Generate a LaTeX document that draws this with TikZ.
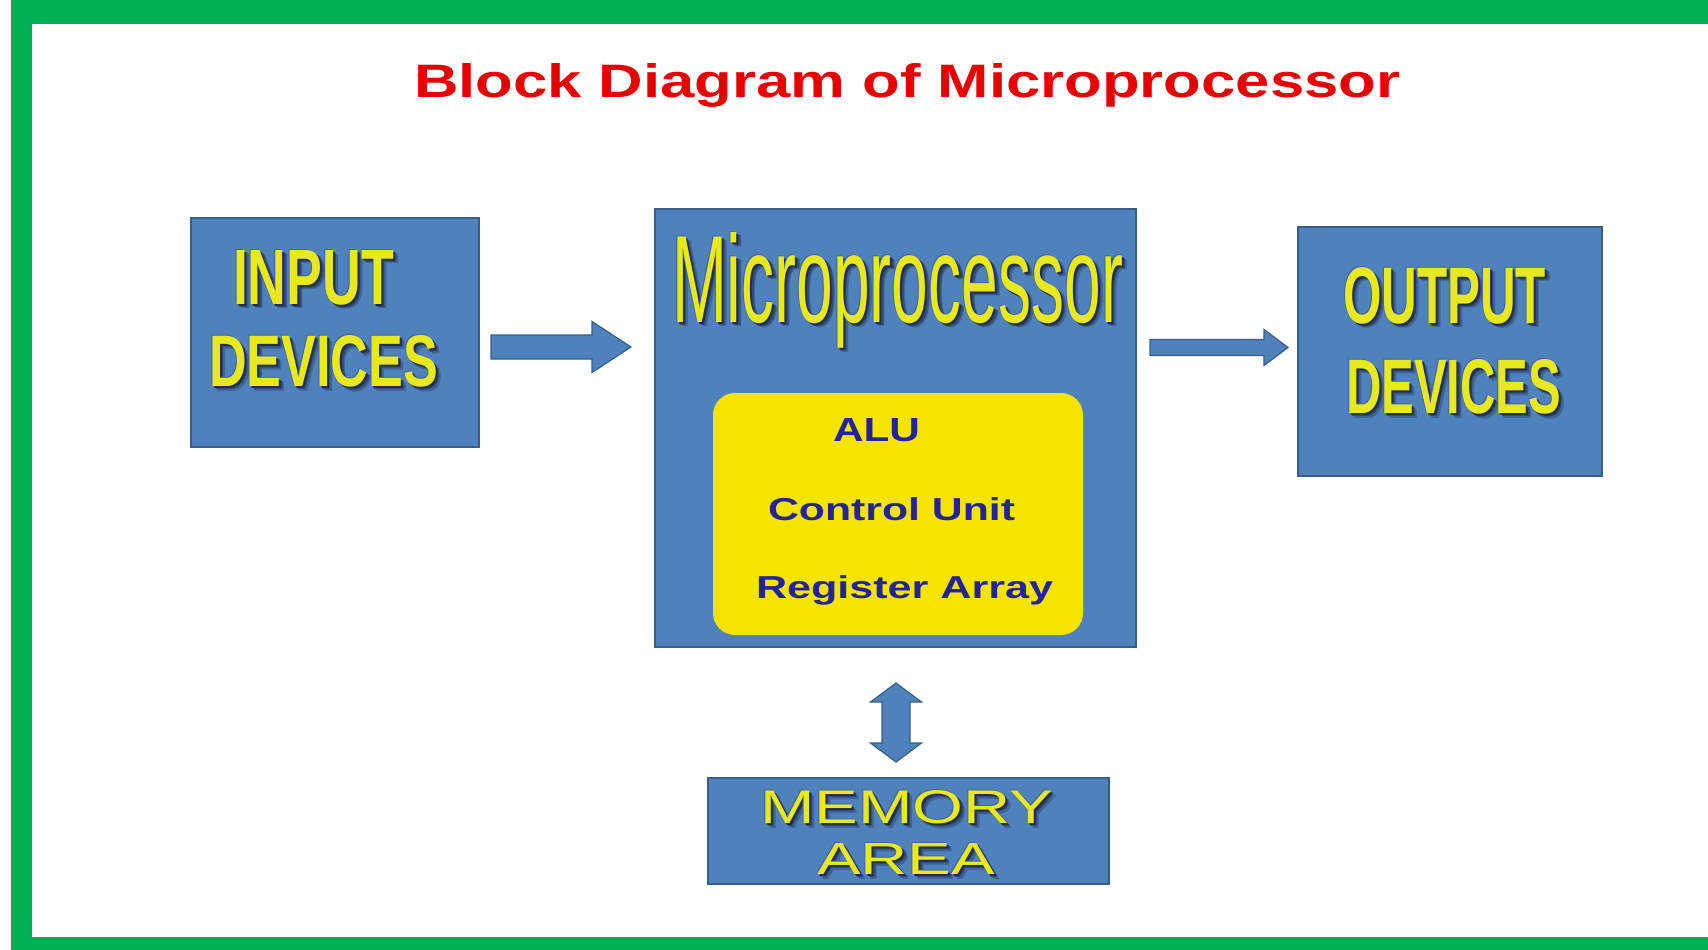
\documentclass[tikz,border=0pt]{standalone}
\usepackage{fontspec}
\setmainfont{Liberation Sans}
\usepackage{graphicx}
\usetikzlibrary{calc}
\definecolor{boxblue}{RGB}{79,129,189}
\definecolor{boxedge}{RGB}{56,93,138}
\definecolor{ylw}{RGB}{232,232,30}
\definecolor{shc}{RGB}{34,46,78}
\definecolor{coreylw}{RGB}{245,228,0}
\definecolor{navytxt}{RGB}{36,36,150}
\definecolor{titlered}{RGB}{230,0,0}
\definecolor{framegreen}{RGB}{0,176,80}
\newcommand{\shlayer}[5]{\rlap{\kern#4\raisebox{-#4}{\color{#5}\resizebox{#1}{#2}{#3}}}}
\newcommand{\shtxt}[3]{%
  \shlayer{#1}{#2}{#3}{5pt}{shc!35!boxblue}%
  \shlayer{#1}{#2}{#3}{3.5pt}{shc!65!boxblue}%
  \shlayer{#1}{#2}{#3}{2pt}{shc}%
  \shlayer{#1}{#2}{#3}{-1pt}{shc!30!boxblue}%
  {\color{ylw}\resizebox{#1}{#2}{#3}}}
\tikzset{
  bluebox/.style={draw=boxedge, line width=2pt, fill=boxblue, inner sep=0pt},
  corebox/.style={fill=coreylw, rounded corners=22pt, inner sep=0pt},
  txt/.style={inner sep=0pt, outer sep=0pt, anchor=base west},
  arrowsty/.style={fill=boxblue, draw=boxedge, line width=1.2pt, line join=miter}
}
\newcommand{\harrow}[5]{%
  \path[arrowsty] let \p1=(#1), \p2=(#2) in
    (\x1,\y1+#3) -- (\x2-#5,\y1+#3) -- (\x2-#5,\y1+#4) -- (\x2,\y1)
    -- (\x2-#5,\y1-#4) -- (\x2-#5,\y1-#3) -- (\x1,\y1-#3) -- cycle;}
\begin{document}
\begin{tikzpicture}[x=1pt,y=-1pt]
\useasboundingbox (0,0) rectangle (1708,950);
\fill[white] (0,0) rectangle (1708,950);
% green frame
\fill[framegreen] (11,0) rectangle (1708,24);
\fill[framegreen] (11,0) rectangle (32,950);
\fill[framegreen] (11,937) rectangle (1708,950);

% title
\node[txt] (title) at (414,98) {\color{titlered}\resizebox{986pt}{34pt}{\bfseries Block Diagram of Microprocessor}};

% boxes
\node[bluebox, minimum width=288pt, minimum height=229pt] (inp) at (335,332.5) {};
\node[bluebox, minimum width=481pt, minimum height=438pt] (mp) at (895.5,428) {};
\node[corebox, minimum width=370pt, minimum height=242pt] (core) at (898,514) {};
\node[bluebox, minimum width=304pt, minimum height=249pt] (out) at (1450,351.5) {};
\node[bluebox, minimum width=401pt, minimum height=106pt] (mem) at (908.5,831) {};

% texts
\node[txt] (tin1) at (233,304) {\shtxt{161pt}{54pt}{\bfseries INPUT}};
\node[txt] (tin2) at (209,386) {\shtxt{229pt}{51pt}{\bfseries DEVICES}};
\node[txt] (tmp) at (672,322) {\shtxt{451pt}{90pt}{Microprocessor}};
\node[txt] (talu) at (833,441) {\color{navytxt}\resizebox{87pt}{23pt}{\bfseries ALU}};
\node[txt] (tcu) at (768,520) {\color{navytxt}\resizebox{247pt}{23pt}{\bfseries Control Unit}};
\node[txt] (tra) at (756,598) {\color{navytxt}\resizebox{297pt}{23pt}{\bfseries Register Array}};
\node[txt] (tout1) at (1343,323) {\shtxt{203pt}{56pt}{\bfseries OUTPUT}};
\node[txt] (tout2) at (1346,413) {\shtxt{215pt}{54pt}{\bfseries DEVICES}};
\node[txt] (tmem1) at (760,823) {\shtxt{293pt}{33pt}{MEMORY}};
\node[txt] (tmem2) at (817,874) {\shtxt{178pt}{31pt}{AREA}};

% arrow end points
\coordinate (a1s) at ($(inp.east)+(11,14.5)$);
\coordinate (a1e) at ($(mp.west)+(-23,-81)$);
\coordinate (a2s) at ($(mp.east)+(13,-80.5)$);
\coordinate (a2e) at ($(out.west)+(-9,-4)$);
\coordinate (a3s) at ($(mp.south)+(0.5,35)$);
\coordinate (a3e) at ($(mem.north)+(-12.5,-15)$);

\harrow{a1s}{a1e}{12pt}{25.5pt}{39pt}
\harrow{a2s}{a2e}{8pt}{18pt}{24pt}
\path[arrowsty] let \p1=(a3s), \p2=(a3e) in
  (\x1,\y1) -- (\x1+25.5pt,\y1-19pt) -- (\x1+14pt,\y1-19pt) -- (\x1+14pt,\y2+19pt)
  -- (\x1+25.5pt,\y2+19pt) -- (\x1,\y2) -- (\x1-25.5pt,\y2+19pt) -- (\x1-14pt,\y2+19pt)
  -- (\x1-14pt,\y1-19pt) -- (\x1-25.5pt,\y1-19pt) -- cycle;
\end{tikzpicture}
\end{document}
